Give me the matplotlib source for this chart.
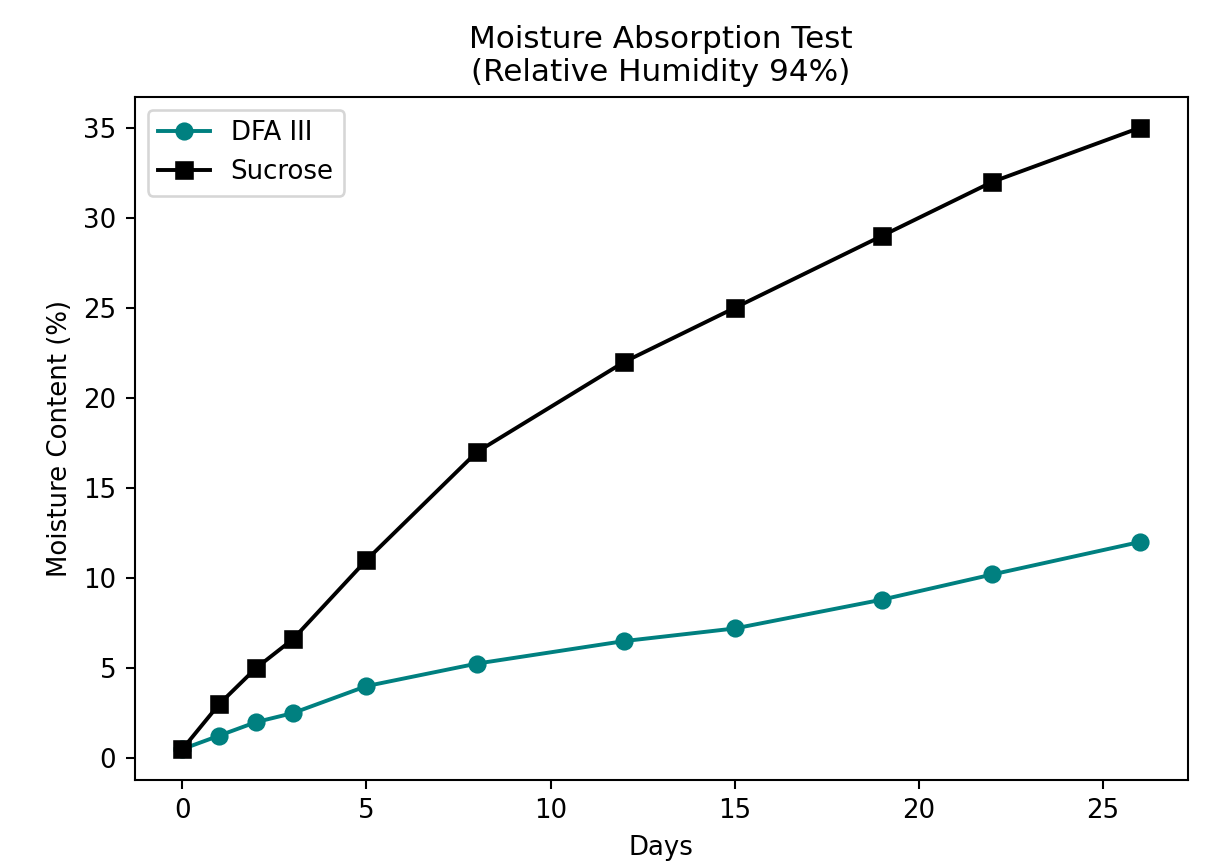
import numpy as np
import matplotlib
matplotlib.use("Agg")
import matplotlib.pyplot as plt

days = [0, 1, 2, 3, 5, 8, 12, 15, 19, 22, 26]
dfa3 = [0.5, 1.25, 2.0, 2.5, 4.0, 5.25, 6.5, 7.2, 8.8, 10.2, 12.0]
sucrose = [0.5, 3.0, 5.0, 6.6, 11.0, 17.0, 22.0, 25.0, 29.0, 32.0, 35.0]

dpi = 187
fig, ax = plt.subplots(figsize=(1223/dpi, 864/dpi), dpi=dpi)
fig.subplots_adjust(left=0.110, right=0.971, top=0.888, bottom=0.097)

ax.plot(days, dfa3, "o-", color="teal", label="DFA III")
ax.plot(days, sucrose, "s-", color="black", label="Sucrose")

ax.set_xlabel("Days")
ax.set_ylabel("Moisture Content (%)")
ax.set_title("Moisture Absorption Test\n(Relative Humidity 94%)")
ax.legend(loc="upper left")

fig.savefig("out.png", dpi=dpi)
plt.close(fig)
